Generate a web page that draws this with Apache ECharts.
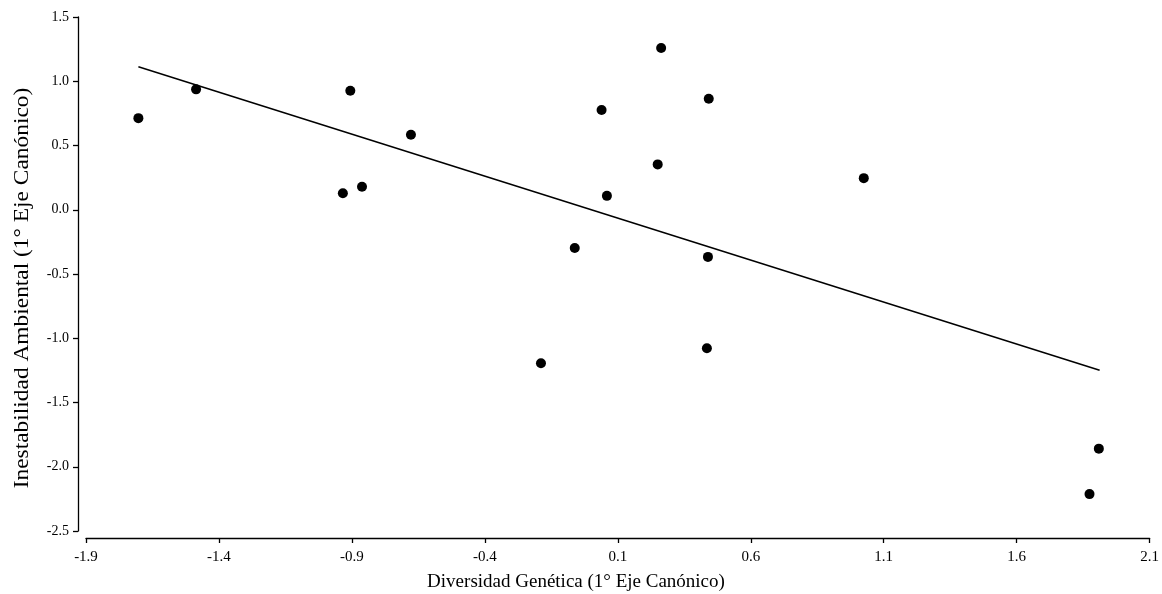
<!DOCTYPE html>
<html><head><meta charset="utf-8">
<script src="https://cdn.jsdelivr.net/npm/echarts@6/dist/echarts.min.js"></script>
<style>html,body{margin:0;padding:0;background:#fff}#c{width:1162px;height:594px}</style>
</head><body><div id="c"></div>
<script>
const xValues = [-1.703,-1.486,-0.906,-0.678,-0.934,-0.862,0.263,0.442,0.039,0.250,0.059,-0.062,0.439,1.025,-0.189,0.435,1.909,1.874];
const yValues = [0.713,0.937,0.926,0.583,0.129,0.179,1.259,0.864,0.776,0.353,0.108,-0.297,-0.367,0.246,-1.195,-1.078,-1.859,-2.213];
const fitX = [-1.703, 1.912];
const fitY = [1.113, -1.249];
const xTitle = 'Diversidad Genética (1° Eje Canónico)';
const yTitle = 'Inestabilidad Ambiental (1° Eje Canónico)';

const font = '"Liberation Serif","Times New Roman",serif';
const chart = echarts.init(document.getElementById('c'), null, {renderer:'canvas'});
const axisLine = {show:true,onZero:false,lineStyle:{color:'#000',width:1.3}};
const axisTick = {show:true,inside:false,length:5,lineStyle:{color:'#000',width:1.3}};
chart.setOption({
  animation:false,
  backgroundColor:'#fff',
  grid:{left:86,right:12,top:17,bottom:63,containLabel:false},
  xAxis:{type:'value',min:-1.9,max:2.1,interval:0.5,offset:7,axisLine,axisTick,splitLine:{show:false},
    axisLabel:{color:'#000',fontFamily:font,fontSize:15,margin:12,formatter:v=>v.toFixed(1),showMinLabel:true,showMaxLabel:true}},
  yAxis:{type:'value',min:-2.5,max:1.5,interval:0.5,offset:8,axisLine,axisTick,splitLine:{show:false},
    axisLabel:{color:'#000',fontFamily:font,fontSize:14,margin:9,formatter:v=>v.toFixed(1)}},
  graphic:[
    {type:'text',x:576,y:582,style:{text:xTitle,font:'19px '+font,fill:'#000',textAlign:'center',textVerticalAlign:'middle'}},
    {type:'text',x:23,y:288,rotation:Math.PI/2,scaleX:1.17,style:{text:yTitle,font:'20px '+font,fill:'#000',textAlign:'center',textVerticalAlign:'middle'}}
  ],
  series:[
    {type:'line',data:fitX.map((x,i)=>[x,fitY[i]]),symbol:'none',lineStyle:{color:'#000',width:1.5},z:1},
    {type:'scatter',data:xValues.map((x,i)=>[x,yValues[i]]),symbol:'circle',symbolSize:10,itemStyle:{color:'#000',opacity:1},z:2}
  ]
});
</script></body></html>
